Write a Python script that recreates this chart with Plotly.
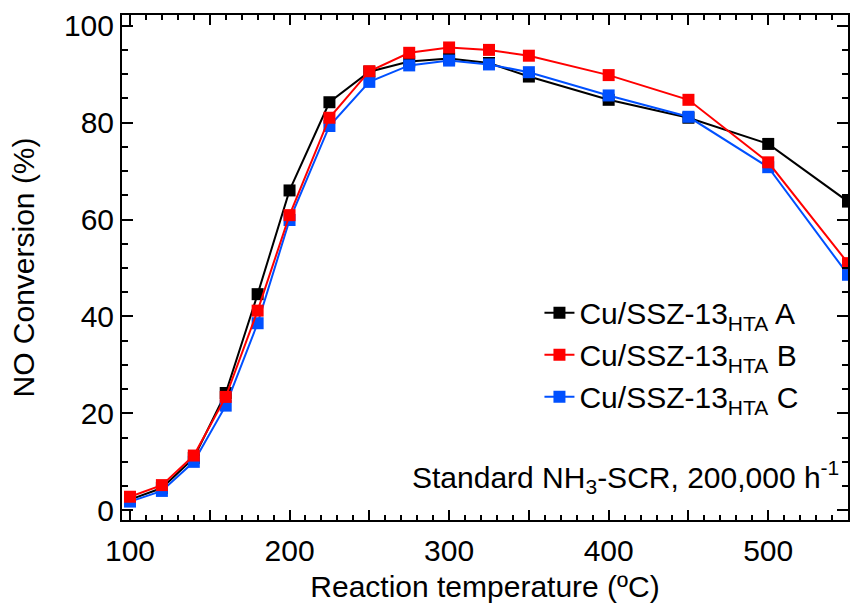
import plotly.graph_objects as go

temperature = [100, 120, 140, 160, 180, 200, 225, 250, 275, 300, 325, 350, 400, 450, 500, 550]
conv_A = [2.2, 4.6, 10.8, 24.2, 44.6, 66.0, 84.2, 90.5, 92.6, 93.2, 92.3, 89.5, 84.7, 81.0, 75.6, 63.7]
conv_B = [2.8, 5.2, 11.3, 23.4, 41.2, 60.9, 81.0, 90.6, 94.4, 95.5, 95.0, 93.8, 89.8, 84.7, 71.8, 51.0]
conv_C = [1.8, 4.0, 10.0, 21.6, 38.6, 59.9, 79.3, 88.4, 91.8, 92.8, 92.0, 90.4, 85.6, 81.2, 70.8, 48.6]

names = ["Cu/SSZ-13<sub>HTA</sub> A", "Cu/SSZ-13<sub>HTA</sub> B", "Cu/SSZ-13<sub>HTA</sub> C"]
colors = ["#000000", "#ff0000", "#0050ff"]

x_tickvals = [100, 150, 200, 250, 300, 350, 400, 450, 500, 550]
x_ticktext = ["100", "", "200", "", "300", "", "400", "", "500", ""]
y_tickvals = [0, 20, 40, 60, 80, 100]

FONT = "Liberation Sans, Arial, sans-serif"

fig = go.Figure()
series = [(conv_A, 0, 1), (conv_C, 2, 3), (conv_B, 1, 2)]
for vals, idx, rank in series:
    fig.add_trace(go.Scatter(
        x=temperature, y=vals, name=names[idx], mode="lines+markers",
        line=dict(color=colors[idx], width=2),
        marker=dict(symbol="square", size=12, color=colors[idx]),
        legendrank=rank,
    ))

fig.update_layout(
    width=851, height=605,
    margin=dict(l=122, r=1, t=15, b=85),
    plot_bgcolor="white", paper_bgcolor="white",
    font=dict(family=FONT, size=30, color="black"),
    showlegend=True,
    legend=dict(
        x=0.575, y=0.462, xanchor="left", yanchor="top",
        bgcolor="rgba(0,0,0,0)", font=dict(size=30),
        tracegroupgap=0,
    ),
    xaxis=dict(
        range=[95, 550], tickmode="array", tickvals=x_tickvals, ticktext=x_ticktext,
        ticks="inside", ticklen=10, tickwidth=2, tickcolor="black",
        minor=dict(dtick=10, ticks="inside", ticklen=5, tickwidth=2, tickcolor="black"),
        showline=True, linewidth=2, linecolor="black", mirror="allticks",
        showgrid=False, zeroline=False,
        tickfont=dict(size=30), ticklabelstandoff=3,
        title=dict(text="Reaction temperature (ºC)", font=dict(size=30), standoff=10),
    ),
    yaxis=dict(
        range=[-2, 102.2], tickmode="array", tickvals=y_tickvals,
        ticks="inside", ticklen=11, tickwidth=2, tickcolor="black",
        minor=dict(dtick=5, ticks="inside", ticklen=6, tickwidth=2, tickcolor="black"),
        showline=True, linewidth=2, linecolor="black", mirror="allticks",
        showgrid=False, zeroline=False,
        tickfont=dict(size=30), ticklabelstandoff=0,
        title=dict(text="NO Conversion (%)", font=dict(size=30), standoff=20),
    ),
    annotations=[dict(
        text="Standard NH<sub>3</sub>-SCR, 200,000 h<sup>-1</sup>",
        xref="paper", yref="paper", x=0.99, y=0.04, xanchor="right", yanchor="bottom",
        showarrow=False, font=dict(size=30),
    )],
)

fig.write_html("out.html")
